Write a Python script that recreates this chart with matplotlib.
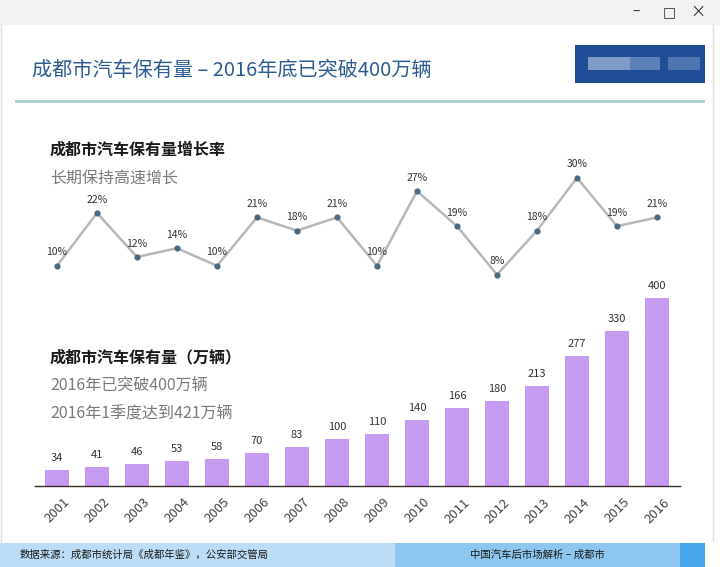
import matplotlib.pyplot as plt
import matplotlib.patches as mpatches
import numpy as np

plt.rcParams['font.family'] = ['Noto Sans CJK SC', 'DejaVu Sans']

years = ['2001', '2002', '2003', '2004', '2005', '2006', '2007', '2008',
         '2009', '2010', '2011', '2012', '2013', '2014', '2015', '2016']
growth = [10, 22, 12, 14, 10, 21, 18, 21, 10, 27, 19, 8, 18, 30, 19, 21]
stock = [34, 41, 46, 53, 58, 70, 83, 100, 110, 140, 166, 180, 213, 277, 330, 400]

W, H = 720, 567
fig = plt.figure(figsize=(7.2, 5.67), dpi=100)
fig.patch.set_facecolor('white')


def fx(px):
    return px / W


def fy(py):
    return 1 - py / H


def box(x0, y0, x1, y1, color, z=0):
    fig.patches.append(mpatches.Rectangle((fx(x0), fy(y1)), fx(x1) - fx(x0), fy(y0) - fy(y1),
                                          transform=fig.transFigure, facecolor=color,
                                          edgecolor='none', zorder=z))


# window chrome
box(0, 0, 720, 25, '#F2F2F2')
fig.text(fx(636), fy(12), '–', fontsize=10, color='#333333', ha='center', va='center')
fig.text(fx(669), fy(12), '□', fontsize=10, color='#333333', ha='center', va='center',
         family=['DejaVu Sans'])
fig.text(fx(698), fy(12), '×', fontsize=11, color='#333333', ha='center', va='center')
fig.lines.append(plt.Line2D([fx(713), fx(713)], [fy(25), fy(540)], transform=fig.transFigure,
                            color='#E0E0E0', lw=1))
fig.lines.append(plt.Line2D([fx(1), fx(1)], [fy(25), fy(543)], transform=fig.transFigure,
                            color='#E0E0E0', lw=1))

# header
fig.text(fx(32), fy(70), '成都市汽车保有量 – 2016年底已突破400万辆', fontsize=14.5,
         color='#2E5C92', ha='left', va='center')
box(575, 45, 705, 83, '#1F4E96')
box(588, 57, 630, 70, '#7F9CC8')
box(630, 57, 660, 70, '#5E80B8')
box(668, 57, 700, 70, '#4F75B0')
fig.lines.append(plt.Line2D([fx(16), fx(703)], [fy(101), fy(101)], transform=fig.transFigure,
                            color='#A8CBD2', lw=2))

x = np.arange(len(years))
xl = (-0.55, 15.575)

# growth line
ax1 = fig.add_axes([fx(35), fy(290), fx(680) - fx(35), fy(140) - fy(290)])
ax1.plot(x, growth, color='#B8B8B8', lw=1.8, zorder=2)
ax1.scatter(x, growth, s=12, color='#4A6A82', zorder=3)
for i, v in enumerate(growth):
    ax1.annotate(f'{v}%', (i, v), xytext=(0, 6), textcoords='offset points',
                 ha='center', va='bottom', fontsize=7.5, color='#333333')
ax1.set_xlim(xl)
ax1.set_ylim(4.5, 38.6)
ax1.axis('off')

# stock bars
ax2 = fig.add_axes([fx(35), fy(486), fx(680) - fx(35), fy(290) - fy(486)])
bars = ax2.bar(x, stock, width=0.58, color='#C59BF2', zorder=2)
ax2.bar_label(bars, padding=5, fontsize=8, color='#333333')
ax2.set_xlim(xl)
ax2.set_ylim(0, 417)
ax2.set_xticks(x, years, rotation=45, fontsize=9.5, color='#444444')
ax2.tick_params(axis='x', length=0, pad=7)
ax2.set_yticks([])
for s in ['top', 'right', 'left']:
    ax2.spines[s].set_visible(False)
ax2.spines['bottom'].set_color('#3A2A2A')
ax2.spines['bottom'].set_linewidth(1)
ax2.patch.set_alpha(0)

# side texts
fig.text(fx(50), fy(150), '成都市汽车保有量增长率', fontsize=11.5, fontweight='bold',
         color='#1A1A1A', va='center')
fig.text(fx(50), fy(178), '长期保持高速增长', fontsize=11.5, color='#7A7A7A', va='center')
fig.text(fx(50), fy(357), '成都市汽车保有量（万辆）', fontsize=11.5, fontweight='bold',
         color='#1A1A1A', va='center')
fig.text(fx(50), fy(385), '2016年已突破400万辆', fontsize=11.5, color='#7A7A7A', va='center')
fig.text(fx(50), fy(413), '2016年1季度达到421万辆', fontsize=11.5, color='#7A7A7A', va='center')

# footer
box(0, 543, 395, 567, '#BCDDF5')
box(395, 543, 680, 567, '#8DC7F0')
box(680, 543, 705, 567, '#4AA6EA')
fig.text(fx(20), fy(555), '数据来源：成都市统计局《成都年鉴》，公安部交管局', fontsize=7.5,
         color='#1A1A1A', va='center')
fig.text(fx(537), fy(555), '中国汽车后市场解析 – 成都市', fontsize=7.5,
         color='#1A1A1A', va='center', ha='center')

plt.savefig('out.png', dpi=100)
